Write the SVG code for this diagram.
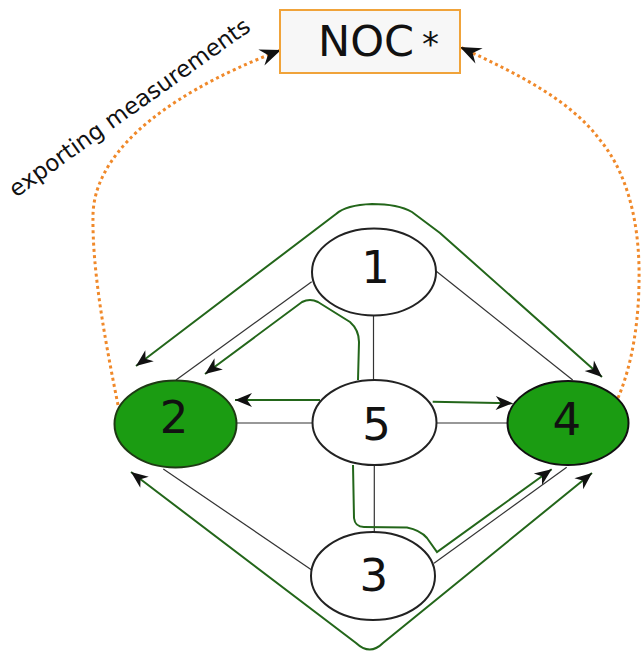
<svg xmlns="http://www.w3.org/2000/svg" width="642" height="652" viewBox="0 0 642 652">
  <style>
    .link { fill: none; stroke: #333; stroke-width: 1.2; }
    .flow { fill: none; stroke: #23661a; stroke-width: 2; }
    .export { fill: none; stroke: #f0892a; stroke-width: 3; stroke-dasharray: 3 3.2; }
    .plain { fill: #fff; stroke: #222; stroke-width: 2; }
    .active { fill: #1b9c12; stroke: #1e3a14; stroke-width: 2; }
    .num { font-family: "DejaVu Sans", sans-serif; font-size: 45px; fill: #111; text-anchor: middle; }
    .label { font-family: "DejaVu Sans", sans-serif; font-size: 23px; fill: #111; }
  </style>
  <defs>
    <marker id="arrow" markerUnits="userSpaceOnUse" viewBox="-19 -9 20 18" refX="0" refY="0" markerWidth="20" markerHeight="18" orient="auto-start-reverse">
      <path d="M0,0 L-17,-7 L-12,0 L-17,7 Z" fill="#111"/>
    </marker>
    <marker id="arrowBig" markerUnits="userSpaceOnUse" viewBox="-23 -10 24 20" refX="0" refY="0" markerWidth="24" markerHeight="20" orient="auto">
      <path d="M0,0 L-21,-8.5 L-14,0 L-21,8.5 Z" fill="#111"/>
    </marker>
  </defs>

  <!-- physical links between routers -->
  <g id="links">
    <line class="link" x1="311.7" y1="281.7" x2="176" y2="380"/>
    <line class="link" x1="436" y1="271" x2="572.7" y2="380"/>
    <line class="link" x1="373.5" y1="315" x2="373.5" y2="380"/>
    <line class="link" x1="236.7" y1="423" x2="312.7" y2="423"/>
    <line class="link" x1="436.7" y1="423" x2="507.7" y2="423"/>
    <line class="link" x1="374.3" y1="465" x2="374.3" y2="532"/>
    <line class="link" x1="163.3" y1="469" x2="311.7" y2="570"/>
    <line class="link" x1="434" y1="563.3" x2="566.7" y2="467.3"/>
  </g>

  <!-- measurement flows and export paths -->
  <g id="connectors">
    <path class="flow" d="M136,366 L336,214 Q346,205 372,204 Q398,204 412,212 L440,233 L602,377" marker-start="url(#arrow)" marker-end="url(#arrow)"/>
    <path class="flow" d="M358,380 L359,342 Q359,330 350,322 L318,302 Q310,298 302,302 L205,374" marker-end="url(#arrow)"/>
    <path class="flow" d="M320,400 L235,400" marker-end="url(#arrow)"/>
    <path class="flow" d="M432.7,401.7 L512.7,403.3" marker-end="url(#arrow)"/>
    <path class="flow" d="M353,465 L354,518 Q355,527 364,527 L407,527.5 Q420,530 427,538 L437,552 L551.7,469.3" marker-end="url(#arrow)"/>
    <path class="flow" d="M131,472 L356,643 Q370,656 383,643 L592,473" marker-start="url(#arrow)" marker-end="url(#arrow)"/>
    <path class="export" d="M118,405 C105,340 92,270 93,215 C94,160 150,100 281,50" marker-end="url(#arrowBig)"/>
    <path class="export" d="M618,398 C632,365 640,320 639,267 C638,215 625,170 600,140 C570,100 520,75 460,47" marker-end="url(#arrowBig)"/>
  </g>

  <g id="noc">
    <rect x="280" y="10" width="180" height="63" fill="#f7f7f7" stroke="#f0a33a" stroke-width="2"/>
    <text x="318" y="56" font-family="DejaVu Sans, sans-serif" font-size="43" fill="#111">NOC</text>
    <text x="422" y="56" font-family="DejaVu Sans, sans-serif" font-size="34" fill="#111">*</text>
  </g>

  <text class="label" x="16" y="198" transform="rotate(-35.5 16 198)">exporting measurements</text>

  <g id="node-1">
    <ellipse class="plain" cx="374" cy="272" rx="62" ry="43.5"/>
    <text class="num" x="375.5" y="282.7">1</text>
  </g>
  <g id="node-2">
    <ellipse class="active" cx="175.5" cy="424" rx="61" ry="43.5"/>
    <text class="num" x="174" y="433.3">2</text>
  </g>
  <g id="node-3">
    <ellipse class="plain" cx="373" cy="576" rx="62" ry="44"/>
    <text class="num" x="373.7" y="590.7">3</text>
  </g>
  <g id="node-4">
    <ellipse class="active" cx="568" cy="423" rx="60.5" ry="42" style="stroke:#111"/>
    <text class="num" x="566.7" y="435">4</text>
  </g>
  <g id="node-5">
    <ellipse class="plain" cx="374.5" cy="422.5" rx="62" ry="42.5"/>
    <text class="num" x="376.5" y="440">5</text>
  </g>
</svg>
